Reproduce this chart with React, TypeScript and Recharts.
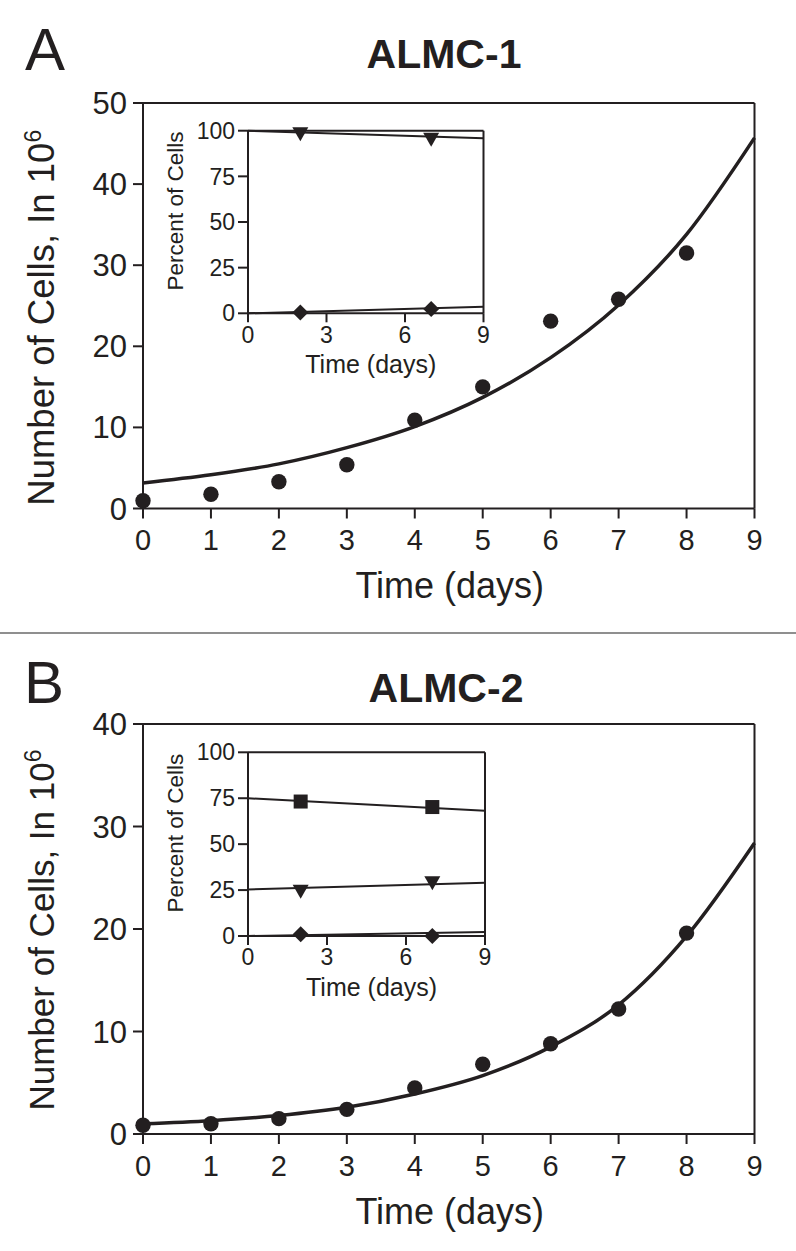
import React from 'react';
import { ComposedChart, Line, Scatter, XAxis, YAxis, Label } from 'recharts';

const FONT = '"Liberation Sans", Arial, Helvetica, sans-serif';
const INK = '#231f20';

// main panels: days and cell counts (x10^6)
const DAYS = [0, 1, 2, 3, 4, 5, 6, 7, 8, 9];
const OBS_DAYS = [0, 1, 2, 3, 4, 5, 6, 7, 8];
const A_OBSERVED = [0.95, 1.75, 3.3, 5.4, 10.9, 15.0, 23.1, 25.8, 31.5];
const A_FIT = [3.15, 4.15, 5.5, 7.5, 10.1, 13.7, 18.6, 25.1, 33.8, 45.7];
const B_OBSERVED = [0.85, 1.0, 1.5, 2.4, 4.5, 6.8, 8.8, 12.2, 19.6];
const B_FIT = [1.0, 1.3, 1.8, 2.6, 3.9, 5.7, 8.5, 12.6, 19.3, 28.4];
const A_Y_TICKS = [0, 10, 20, 30, 40, 50];
const B_Y_TICKS = [0, 10, 20, 30, 40];

// insets: percent of cells
const INSET_X_TICKS = [0, 3, 6, 9];
const INSET_Y_TICKS = [0, 25, 50, 75, 100];
const LINE_DAYS = [0, 9];
const SAMPLE_DAYS = [2, 7];

const A_TRI_LINE = [100, 95.8];
const A_TRI_PTS = [98.6, 95.6];
const A_DIA_LINE = [0, 3.6];
const A_DIA_PTS = [0.5, 2.4];

const B_SQ_LINE = [75, 68.2];
const B_SQ_PTS = [73.2, 70.2];
const B_TRI_LINE = [25.3, 29];
const B_TRI_PTS = [24.7, 29.2];
const B_DIA_LINE = [0, 2.2];
const B_DIA_PTS = [0.9, 0];

const toRows = (xs: number[], ys: number[]) => ys.map((v, i) => ({ day: xs[i], v }));

const dot = (p: any) => <circle cx={p.cx} cy={p.cy} r={7.7} fill={INK} />;
const triDown = (p: any) => (
  <path d={`M${p.cx - 8},${p.cy - 6}L${p.cx + 8},${p.cy - 6}L${p.cx},${p.cy + 8}Z`} fill={INK} />
);
const diamond = (p: any) => (
  <path d={`M${p.cx},${p.cy - 8}L${p.cx + 8},${p.cy}L${p.cx},${p.cy + 8}L${p.cx - 8},${p.cy}Z`} fill={INK} />
);
const square = (p: any) => <rect x={p.cx - 7} y={p.cy - 7} width={14} height={14} fill={INK} />;

const axisLine = { stroke: INK, strokeWidth: 2 };

function MainPanel(props: {
  top: number; height: number; marginTop: number; xAxisHeight: number;
  yMax: number; yTicks: number[]; fit: number[]; obs: number[]; yTitleDy: number; yTitleSize: number;
}) {
  const { top, height, marginTop, xAxisHeight, yMax, yTicks, fit, obs, yTitleDy, yTitleSize } = props;
  return (
    <div style={{ position: 'absolute', left: 0, top }}>
      <ComposedChart width={796} height={height} margin={{ top: marginTop, right: 29.5, bottom: 0, left: 0 }}>
        <XAxis xAxisId="top" orientation="top" type="number" dataKey="day" domain={[0, 9]}
          height={1} tick={false} tickLine={false} axisLine={axisLine} />
        <XAxis type="number" dataKey="day" domain={[0, 9]} ticks={DAYS} interval={0}
          height={xAxisHeight} axisLine={axisLine} tickLine={axisLine} tickSize={10} tickMargin={11}
          tick={{ fontSize: 29, fill: INK, fontFamily: FONT }}>
          <Label content={(lp: any) => {
            const vb = lp.viewBox;
            return (
              <text x={vb.x + vb.width / 2 + 1} y={vb.y + 89.5} textAnchor="middle"
                fontSize={36} fill={INK} fontFamily={FONT}>Time (days)</text>
            );
          }} />
        </XAxis>
        <YAxis yAxisId="l" type="number" domain={[0, yMax]} ticks={yTicks} interval={0} width={143}
          axisLine={axisLine} tickLine={axisLine} tickSize={10} tickMargin={6}
          tick={{ fontSize: 31, fill: INK, fontFamily: FONT }}>
          <Label content={(lp: any) => {
            const vb = lp.viewBox;
            const cx = vb.x + 53.5;
            const cy = vb.y + vb.height / 2 + yTitleDy;
            return (
              <text x={cx} y={cy} transform={`rotate(-90, ${cx}, ${cy})`} textAnchor="middle"
                fontSize={yTitleSize} fill={INK} fontFamily={FONT}>
                Number of Cells, In 10<tspan dy={-13} fontSize={23}>6</tspan>
              </text>
            );
          }} />
        </YAxis>
        <YAxis yAxisId="r" orientation="right" type="number" domain={[0, yMax]} ticks={yTicks} interval={0}
          width={12} axisLine={axisLine} tickLine={axisLine} tickSize={10} tickFormatter={() => ''} />
        <Line yAxisId="l" data={toRows(DAYS, fit)} dataKey="v" type="monotone" stroke={INK}
          strokeWidth={3.5} dot={false} activeDot={false} isAnimationActive={false} />
        <Scatter yAxisId="l" data={toRows(OBS_DAYS, obs)} dataKey="v" shape={dot} isAnimationActive={false} />
      </ComposedChart>
    </div>
  );
}

type InsetSeries = { line: number[]; pts: number[]; shape: (p: any) => React.ReactElement };

function Inset(props: {
  top: number; marginTop: number; marginRight: number; xAxisHeight: number; series: InsetSeries[];
}) {
  const { top, marginTop, marginRight, xAxisHeight, series } = props;
  return (
    <div style={{ position: 'absolute', left: 150, top }}>
      <ComposedChart width={350} height={280} margin={{ top: marginTop, right: marginRight, bottom: 0, left: 0 }}>
        <XAxis xAxisId="top" orientation="top" type="number" dataKey="day" domain={[0, 9]}
          height={1} tick={false} tickLine={false} axisLine={axisLine} />
        <XAxis type="number" dataKey="day" domain={[0, 9]} ticks={INSET_X_TICKS} interval={0}
          height={xAxisHeight} axisLine={axisLine} tickLine={axisLine} tickSize={9} tickMargin={4}
          tick={{ fontSize: 23, fill: INK, fontFamily: FONT }}>
          <Label content={(lp: any) => {
            const vb = lp.viewBox;
            return (
              <text x={vb.x + vb.width / 2 + 5} y={vb.y + 60} textAnchor="middle"
                fontSize={25} fill={INK} fontFamily={FONT}>Time (days)</text>
            );
          }} />
        </XAxis>
        <YAxis yAxisId="l" type="number" domain={[0, 100]} ticks={INSET_Y_TICKS} interval={0} width={98}
          axisLine={axisLine} tickLine={axisLine} tickSize={10} tickMargin={3}
          tick={{ fontSize: 23, fill: INK, fontFamily: FONT }}>
          <Label content={(lp: any) => {
            const vb = lp.viewBox;
            const cx = vb.x + 33;
            const cy = vb.y + vb.height / 2 - 11;
            return (
              <text x={cx} y={cy} transform={`rotate(-90, ${cx}, ${cy})`} textAnchor="middle"
                fontSize={22.5} fill={INK} fontFamily={FONT}>Percent of Cells</text>
            );
          }} />
        </YAxis>
        <YAxis yAxisId="r" orientation="right" type="number" domain={[0, 100]} width={1}
          tick={false} tickLine={false} axisLine={axisLine} />
        {series.map((s, i) => (
          <Line key={`l${i}`} yAxisId="l" data={toRows(LINE_DAYS, s.line)} dataKey="v" type="linear"
            stroke={INK} strokeWidth={2} dot={false} activeDot={false} isAnimationActive={false} />
        ))}
        {series.map((s, i) => (
          <Scatter key={`s${i}`} yAxisId="l" data={toRows(SAMPLE_DAYS, s.pts)} dataKey="v"
            shape={s.shape} isAnimationActive={false} />
        ))}
      </ComposedChart>
    </div>
  );
}

export default function App() {
  return (
    <div style={{ position: 'absolute', left: 0, top: 0, width: 796, height: 1251, background: '#fff', overflow: 'hidden' }}>
      <svg width={796} height={1251} style={{ position: 'absolute', left: 0, top: 0 }}>
        <text x={25} y={70} fontSize={60} fill={INK} fontFamily={FONT}>A</text>
        <text x={444} y={68} fontSize={41} fontWeight="bold" textAnchor="middle" fill={INK} fontFamily={FONT}>ALMC-1</text>
        <line x1={0} x2={796} y1={633} y2={633} stroke="#8f8f8f" strokeWidth={2} />
        <text x={24} y={703} fontSize={60} fill={INK} fontFamily={FONT}>B</text>
        <text x={446} y={702} fontSize={41} fontWeight="bold" textAnchor="middle" fill={INK} fontFamily={FONT}>ALMC-2</text>
      </svg>
      <MainPanel top={0} height={625} marginTop={102} xAxisHeight={116.5}
        yMax={50} yTicks={A_Y_TICKS} fit={A_FIT} obs={A_OBSERVED} yTitleDy={12} yTitleSize={36.5} />
      <MainPanel top={640} height={611} marginTop={83} xAxisHeight={117}
        yMax={40} yTicks={B_Y_TICKS} fit={B_FIT} obs={B_OBSERVED} yTitleDy={1} yTitleSize={35} />
      <Inset top={115} marginTop={14.7} marginRight={15.5} xAxisHeight={81.7}
        series={[
          { line: A_TRI_LINE, pts: A_TRI_PTS, shape: triDown },
          { line: A_DIA_LINE, pts: A_DIA_PTS, shape: diamond },
        ]} />
      <Inset top={735} marginTop={16.3} marginRight={14} xAxisHeight={79}
        series={[
          { line: B_SQ_LINE, pts: B_SQ_PTS, shape: square },
          { line: B_TRI_LINE, pts: B_TRI_PTS, shape: triDown },
          { line: B_DIA_LINE, pts: B_DIA_PTS, shape: diamond },
        ]} />
    </div>
  );
}
